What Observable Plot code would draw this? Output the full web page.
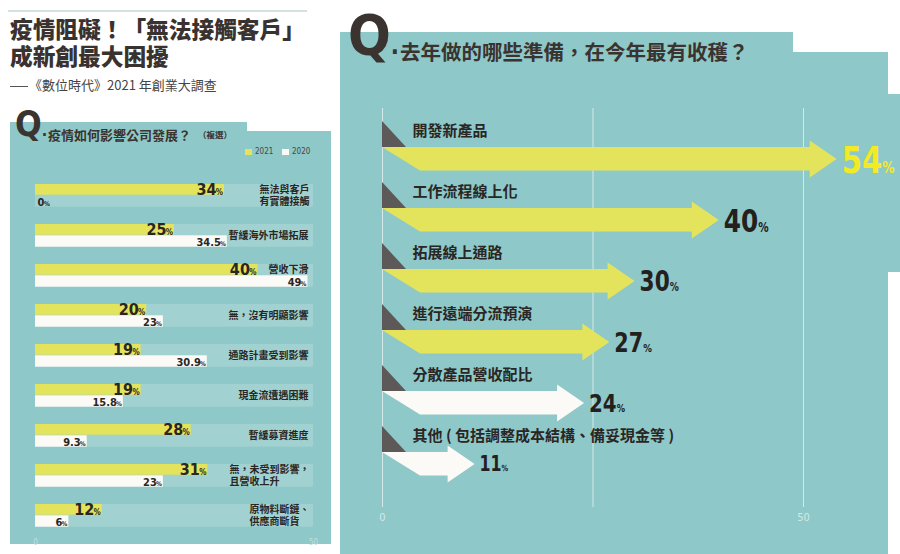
<!DOCTYPE html>
<html><head><meta charset="utf-8">
<script src="https://cdn.jsdelivr.net/npm/d3@7"></script>
<script src="https://cdn.jsdelivr.net/npm/@observablehq/plot@0.6"></script>
<style>
html,body{margin:0;padding:0;background:#fff;}
body{width:900px;height:554px;overflow:hidden;position:relative;font-family:"Noto Sans CJK TC","Noto Sans CJK SC",sans-serif;}
.abs{position:absolute;}
.teal{background:#8ec8c8;}
.num{font-family:"Liberation Sans Narrow","DejaVu Sans Condensed",Roboto,sans-serif;}
</style></head><body>

<!-- top-left title block -->
<div class="abs" style="left:8px;top:10px;width:299px;height:2px;background:#d3e2e1"></div>
<div class="abs" style="left:10px;top:15px;font-size:22.7px;line-height:27px;font-weight:900;color:#3a322f;white-space:nowrap">疫情阻礙！「無法接觸客戶」<br>成新創最大困擾</div>
<div class="abs" style="left:10px;top:77px;font-size:13px;line-height:16px;color:#444;white-space:nowrap"><span style="display:inline-block;width:18px;height:0;border-top:1px solid #555;vertical-align:middle;margin-right:1px"></span>《數位時代》2021 年創業大調查</div>

<!-- left panel background -->
<div class="abs teal" style="left:10px;top:122px;width:237px;height:422px"></div>
<div class="abs teal" style="left:246px;top:131px;width:85px;height:413px"></div>
<div class="abs num" style="left:15px;top:107px;font-size:35px;line-height:35px;font-weight:bold;color:#3b332f;white-space:nowrap">Q<span style="font-size:16px">.</span></div>
<div class="abs" style="left:48px;top:128px;font-size:13px;line-height:13px;font-weight:bold;color:#3b332f;white-space:nowrap">疫情如何影響公司發展？</div>
<div class="abs" style="left:198px;top:130px;font-size:8.5px;line-height:9px;font-weight:bold;color:#3b332f;white-space:nowrap">（複選）</div>

<!-- left legend -->
<div class="abs" style="left:245px;top:149px;width:7px;height:6px;background:#e3e45c"></div>
<div class="abs num" style="left:255px;top:147px;font-size:8px;line-height:10px;color:#4a4646">2021</div>
<div class="abs" style="left:282px;top:149px;width:7px;height:6px;background:#fbfaf6"></div>
<div class="abs num" style="left:292px;top:147px;font-size:8px;line-height:10px;color:#4a4646">2020</div>

<!-- right panel background -->
<div class="abs teal" style="left:340px;top:32px;width:453px;height:522px"></div>
<div class="abs teal" style="left:792px;top:52px;width:96px;height:502px"></div>
<div class="abs teal" style="left:887px;top:94px;width:13px;height:178px"></div>
<div class="abs num" style="left:348px;top:7px;font-size:56px;line-height:56px;font-weight:bold;color:#3b332f;white-space:nowrap">Q<span style="font-size:24px">.</span></div>
<div class="abs" style="left:400px;top:41px;font-size:20.5px;line-height:20.5px;font-weight:bold;color:#3b332f;white-space:nowrap">去年做的哪些準備，在今年最有收穫？</div>

<div id="left" class="abs" style="left:0px;top:160px;width:340px;height:394px"></div>
<div id="right" class="abs" style="left:340px;top:100px;width:560px;height:454px"></div>

<script>
// ---------- data ----------
const impactCategories = [
  "無法與客戶\n有實體接觸",
  "暫緩海外市場拓展",
  "營收下滑",
  "無，沒有明顯影響",
  "通路計畫受到影響",
  "現金流遭遇困難",
  "暫緩募資進度",
  "無，未受到影響，\n且營收上升",
  "原物料斷鏈、\n供應商斷貨"
];
const impact2021 = [34, 25, 40, 20, 19, 19, 28, 31, 12];
const impact2020 = [0, 34.5, 49, 23, 30.9, 15.8, 9.3, 23, 6];
const impactTicks = [0, 50];

const prepCategories = [
  "開發新產品",
  "工作流程線上化",
  "拓展線上通路",
  "進行遠端分流預演",
  "分散產品營收配比",
  "其他 ( 包括調整成本結構、備妥現金等 )"
];
const prepValues = [54, 40, 30, 27, 24, 11];
const prepTicks = [0, 50];
const prepGrid = [0, 25, 50];

// ---------- styles ----------
const NUM = '"Liberation Sans Narrow","DejaVu Sans Condensed",Roboto,sans-serif';
const CJK = '"Noto Sans CJK TC","Noto Sans CJK SC",sans-serif';
const YELLOW = "#e3e45c", WHITE = "#fbfaf6", BAND = "#a1d2d1", INK = "#2a2624";
const AXMAX = 50;

// ---------- left chart ----------
const rows = impactCategories.map((c, i) => ({cat: c, v21: impact2021[i], v20: impact2020[i], lines: c.split("\n")}));
const single = rows.filter(d => d.lines.length === 1);
const multi = rows.filter(d => d.lines.length > 1);
const LF = 10; // label font size

const leftMarks = [
  Plot.barX(rows, {x1: 0, x2: AXMAX, y: "cat", fill: BAND, insetTop: 9, insetBottom: 8.3}),
  Plot.barX(rows, {x1: 0, x2: "v21", y: "cat", fill: YELLOW, insetTop: 9, insetBottom: 20.3}),
  Plot.barX(rows, {x1: 0, x2: "v20", y: "cat", fill: WHITE, insetTop: 20.3, insetBottom: 8.3}),
  // 2021 values
  Plot.text(rows, {x: "v21", y: "cat", text: d => String(d.v21), textAnchor: "end", dx: -8, dy: -5.5, fontSize: 16, fontWeight: "bold", fontFamily: NUM, fill: INK}),
  Plot.text(rows, {x: "v21", y: "cat", text: () => "%", textAnchor: "end", dx: -1.5, dy: -2.6, fontSize: 8, fontWeight: "bold", fontFamily: NUM, fill: INK}),
  // 2020 values
  Plot.text(rows.filter(d => d.v20 > 0), {x: "v20", y: "cat", text: d => String(d.v20), textAnchor: "end", dx: -6.5, dy: 6.5, fontSize: 11, fontWeight: "bold", fontFamily: NUM, fill: INK}),
  Plot.text(rows.filter(d => d.v20 > 0), {x: "v20", y: "cat", text: () => "%", textAnchor: "end", dx: -1.5, dy: 8.5, fontSize: 6.5, fontWeight: "bold", fontFamily: NUM, fill: INK}),
  Plot.text(rows.filter(d => d.v20 === 0), {x: "v20", y: "cat", text: d => String(d.v20), textAnchor: "start", dx: 2, dy: 6.5, fontSize: 11, fontWeight: "bold", fontFamily: NUM, fill: INK}),
  Plot.text(rows.filter(d => d.v20 === 0), {x: "v20", y: "cat", text: () => "%", textAnchor: "start", dx: 8.5, dy: 8.5, fontSize: 6.5, fontWeight: "bold", fontFamily: NUM, fill: INK}),
  // single-line category labels (lifted when the 2020 bar reaches them)
  Plot.text(single.filter(d => d.v20 <= 40), {x: AXMAX, y: "cat", text: "cat", textAnchor: "end", dx: -5, dy: 0.5, fontSize: LF, fontWeight: "bold", fontFamily: CJK, fill: INK}),
  Plot.text(single.filter(d => d.v20 > 40), {x: AXMAX, y: "cat", text: "cat", textAnchor: "end", dx: -5, dy: -5.5, fontSize: LF, fontWeight: "bold", fontFamily: CJK, fill: INK}),
  // multi-line labels, left aligned block ending at the right edge
  ...multi.map(d => Plot.text([d], {x: AXMAX, y: "cat", text: "cat", textAnchor: "start",
      dx: -d3.max(d.lines, l => l.length) * LF - 4, dy: 0, lineHeight: 1.15,
      fontSize: LF, fontWeight: "bold", fontFamily: CJK, fill: INK}))
];

const leftPlot = Plot.plot({
  width: 340, height: 394,
  marginLeft: 35, marginRight: 27, marginTop: 12.7, marginBottom: 15.9,
  style: {background: "transparent", fontFamily: NUM, fontSize: "8px", color: "#c3e0df", overflow: "visible"},
  x: {domain: [0, AXMAX], ticks: impactTicks, tickSize: 0, tickPadding: 1, label: null, axis: "bottom"},
  y: {type: "band", domain: impactCategories, padding: 0, axis: null},
  marks: leftMarks
});
document.getElementById("left").appendChild(leftPlot);

// ---------- right chart ----------
const prepRows = prepCategories.map((c, i) => ({cat: c, value: prepValues[i], rank: i}));
const maxPrep = d3.max(prepValues);

function arrowsMark(index, scales) {
  const x = scales.x, y = scales.y;
  const g = d3.create("svg:g");
  prepRows.forEach(d => {
    const T = y(d.cat) + 5;
    const x0 = x(0), xt = x(d.value), hb = xt - 27;
    g.append("path").attr("d", `M${x0},${T}V${T + 26}H${x0 + 24}Z`).attr("fill", "#5d5958");
    g.append("path")
      .attr("d", `M${x0},${T + 26}H${hb}V${T + 19.5}L${xt},${T + 38}L${hb},${T + 56.5}V${T + 49.5}H${x0 + 38}Z`)
      .attr("fill", d.rank < 4 ? YELLOW : WHITE);
  });
  return g.node();
}

function valueLabelsMark(index, scales) {
  const x = scales.x, y = scales.y;
  const g = d3.create("svg:g");
  prepRows.forEach(d => {
    const T = y(d.cat) + 5;
    const fs = 16 + 0.4 * d.value;
    const t = g.append("text")
      .attr("transform", `translate(${x(d.value) + 5},${T + 38 + fs * 0.36}) scale(0.86,1)`)
      .attr("text-anchor", "start")
      .attr("font-family", NUM)
      .attr("font-weight", "bold")
      .attr("fill", d.value === maxPrep ? "#f3ea26" : "#24201e");
    t.append("tspan").attr("font-size", fs).text(String(d.value));
    t.append("tspan").attr("font-size", fs * 0.42).text("%");
  });
  return g.node();
}

const rightPlot = Plot.plot({
  width: 560, height: 454,
  marginLeft: 42, marginRight: 97, marginTop: 8, marginBottom: 47,
  style: {background: "transparent", fontFamily: NUM, fontSize: "11px", color: "#d2e8e7", overflow: "visible"},
  x: {domain: [0, AXMAX], ticks: prepTicks, tickSize: 0, tickPadding: 6, label: null, axis: "bottom"},
  y: {type: "band", domain: prepCategories, range: [15, 383.4], padding: 0, axis: null},
  marks: [
    Plot.ruleX(prepGrid, {stroke: "#d4eaea", strokeWidth: 1}),
    arrowsMark,
    Plot.text(prepRows, {x: 0, y: "cat", text: "cat", textAnchor: "start", dx: 30, dy: -15.7,
      fontSize: 15, fontWeight: "bold", fontFamily: CJK, fill: INK}),
    valueLabelsMark
  ]
});
document.getElementById("right").appendChild(rightPlot);
</script>
</body></html>
